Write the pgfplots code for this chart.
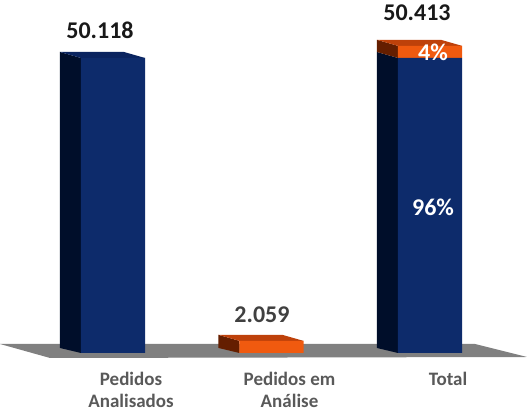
\documentclass[border=0pt]{standalone}
\usepackage{pgfplots}
\pgfplotsset{compat=1.18}
\usepackage{fontspec}
\setmainfont{Carlito}
\definecolor{navyF}{RGB}{13,43,107}
\definecolor{navyS}{RGB}{0,14,42}
\definecolor{navyT}{RGB}{10,36,95}
\definecolor{orF}{RGB}{240,90,15}
\definecolor{orS}{RGB}{100,30,0}
\definecolor{orT}{RGB}{190,65,10}
\definecolor{floorg}{RGB}{128,128,128}
\definecolor{catgray}{RGB}{89,89,89}
\definecolor{lblgray}{RGB}{64,64,64}
\begin{document}
\begin{tikzpicture}
\pgfplotsset{base/.style={scale only axis, width=527pt, height=320.8pt,
  at={(0pt,56.94pt)}, anchor=south west,
  xmin=-0.713, xmax=2.612, ymin=-1200, ymax=53300, clip=false}}
% 3D decoration: floor, side and top faces
\begin{axis}[base, hide axis]
\addplot[fill=floorg, draw=none] coordinates {(-0.713,1529) (2.284,1529) (2.612,-680) (-0.397,-850)} -- cycle;
% bar 1
\addplot[fill=navyS, draw=none] coordinates {(-0.3345,850) (-0.202,0) (-0.202,50118) (-0.3345,51138)} -- cycle;
\addplot[fill=navyT, draw=none] coordinates {(-0.3345,51138) (-0.202,50118) (0.202,50118) (0.0695,51138)} -- cycle;
% bar 2
\addplot[fill=orS, draw=none] coordinates {(0.6655,850) (0.798,0) (0.798,2059) (0.6655,3079)} -- cycle;
\addplot[fill=orT, draw=none] coordinates {(0.6655,3079) (0.798,2059) (1.202,2059) (1.0695,3079)} -- cycle;
% bar 3
\addplot[fill=navyS, draw=none] coordinates {(1.6655,850) (1.798,0) (1.798,50118) (1.6655,51138)} -- cycle;
\addplot[fill=orS, draw=none] coordinates {(1.6655,51138) (1.798,50118) (1.798,52177) (1.6655,53197)} -- cycle;
\addplot[fill=orT, draw=none] coordinates {(1.6655,53197) (1.798,52177) (2.202,52177) (2.0695,53197)} -- cycle;
\end{axis}
% front faces
\begin{axis}[base, ybar stacked, bar width=0.404, bar shift=0pt,
  axis line style={draw=none}, major tick length=0pt, ytick=\empty,
  xtick={0,1,2}, xticklabels={Pedidos\\Analisados, Pedidos em\\Análise, Total},
  xticklabel style={xshift=18pt, yshift=-9pt, align=center, text=catgray,
    font=\fontsize{19}{22}\selectfont\bfseries}]
\addplot[fill=navyF, draw=none] coordinates {(0,50118) (1,0) (2,50118)};
\addplot[fill=orF, draw=none] coordinates {(0,0) (1,2059) (2,2059)};
\end{axis}
% labels
\begin{axis}[base, hide axis]
\node[font=\fontsize{24}{28}\selectfont\bfseries, text=black!90] at (axis cs:-0.082,50118) [yshift=28pt] {50.118};
\node[font=\fontsize{24}{28}\selectfont\bfseries, text=lblgray] at (axis cs:0.94,2059) [yshift=26pt] {2.059};
\node[font=\fontsize{24}{28}\selectfont\bfseries, text=black!90] at (axis cs:1.918,52177) [yshift=33pt] {50.413};
\node[font=\fontsize{24}{28}\selectfont\bfseries, text=white] at (axis cs:2.019,24805) {96\%};
\node[font=\fontsize{24}{28}\selectfont\bfseries, text=white] at (axis cs:2.019,51140) {4\%};
\end{axis}
\pgfresetboundingbox
\path[use as bounding box] (0,0) rectangle (527pt,417pt);
\end{tikzpicture}
\end{document}
